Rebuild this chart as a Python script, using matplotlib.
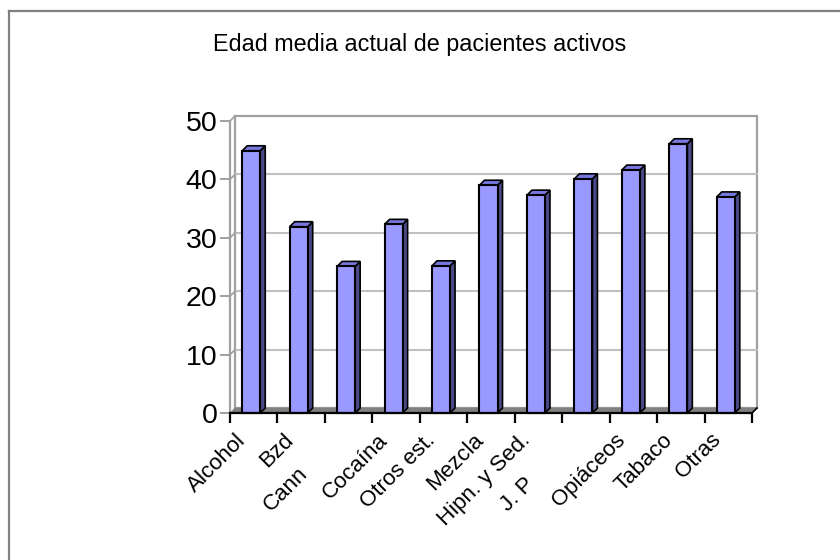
import matplotlib
matplotlib.use("Agg")
import matplotlib.pyplot as plt
from matplotlib.patches import Polygon, Rectangle
from matplotlib.lines import Line2D
import matplotlib.transforms as mtransforms

plt.rcParams['font.family'] = ['Liberation Sans', 'DejaVu Sans']

title = "Edad media actual de pacientes activos"
categories = ["Alcohol", "Bzd", "Cann", "Cocaína", "Otros est.", "Mezcla",
              "Hipn. y Sed.", "J. P", "Opiáceos", "Tabaco", "Otras"]
values = [44.9, 31.9, 25.1, 32.3, 25.2, 39.0, 37.3, 40.1, 41.6, 46.1, 37.0]
yticks = [0, 10, 20, 30, 40, 50]

W, H = 840, 560
fig = plt.figure(figsize=(W / 100, H / 100), dpi=100)

# plot area in pixels (front plane)
left, right, bottom, top = 230, 752, 413, 121
ax = fig.add_axes([left / W, 1 - bottom / H, (right - left) / W, (bottom - top) / H])
n = len(categories)
ax.set_xlim(0, n)
ax.set_ylim(0, 50)
ax.patch.set_alpha(0)

# depth offset of the 3d look (5 px right, 5 px up)
dx = 5 / ((right - left) / n)
dy = 5 / ((bottom - top) / 50)

# back wall + gridlines
ax.add_patch(Rectangle((dx, dy), n, 50, fill=False, ec='#a0a0a0', lw=1.6,
                       clip_on=False, zorder=1))
for v in yticks[1:-1]:
    ax.add_line(Line2D([dx, n + dx], [v + dy, v + dy], color='#c0c0c0', lw=1.5,
                       clip_on=False, zorder=1))
for v in yticks[1:]:
    ax.add_line(Line2D([0, dx], [v, v + dy], color='#a0a0a0', lw=1.2,
                       clip_on=False, zorder=1))
# floor
ax.add_patch(Polygon([(0, 0), (n, 0), (n + dx, dy), (dx, dy)], closed=True,
                     fc='#808080', ec='#808080', lw=0.5, clip_on=False, zorder=2))

# bars
bw = 0.38
for i, v in enumerate(values):
    c = i + 0.5
    x0 = c - (bw + dx) / 2
    x1 = x0 + bw
    ax.add_patch(Polygon([(x1, 0), (x1 + dx, dy), (x1 + dx, v + dy), (x1, v)],
                         closed=True, fc='#4a4a88', ec='black', lw=1.2,
                         clip_on=False, zorder=3))
    ax.add_patch(Polygon([(x0, v), (x0 + dx, v + dy), (x1 + dx, v + dy), (x1, v)],
                         closed=True, fc='#7777dd', ec='black', lw=1.2,
                         clip_on=False, zorder=3))
    ax.add_patch(Rectangle((x0, 0), bw, v, fc='#9999ff', ec='black', lw=1.5,
                           clip_on=False, zorder=4))

# axes lines
for s in ['top', 'right']:
    ax.spines[s].set_visible(False)
ax.spines['left'].set_color('#a0a0a0')
ax.spines['left'].set_linewidth(1.6)
ax.spines['bottom'].set_color('black')
ax.spines['bottom'].set_linewidth(1.6)
ax.spines['bottom'].set_zorder(5)
ax.add_line(Line2D([n, n + dx], [0, dy], color='black', lw=1.2, clip_on=False, zorder=5))

ax.set_yticks(yticks)
ax.set_yticklabels([str(v) for v in yticks], fontsize=20.5)
ax.tick_params(axis='y', length=7, width=1.4, color='#a0a0a0', pad=2)
ax.set_xticks(range(n + 1))
ax.set_xticklabels([])
ax.tick_params(axis='x', length=7, width=1.6, color='black', direction='out')

# rotated category labels; truncated ones sit lower along their slope
shift = {"Cann": 33, "J. P": 44}
for i, lab in enumerate(categories):
    s = shift.get(lab, 0)
    off = mtransforms.ScaledTranslation((-11 - s) / 100, (-24 - s) / 100, fig.dpi_scale_trans)
    ax.text(i + 0.5, 0, lab, transform=ax.get_xaxis_transform() + off,
            rotation=45, rotation_mode='anchor', ha='right', va='center',
            fontsize=16)

fig.text(0.5, 1 - 45 / H, title, ha='center', va='center', fontsize=16.8)

# outer frame (top and left edges)
fig.add_artist(Line2D([9 / W, 1], [1 - 11 / H, 1 - 11 / H], color='#808080', lw=1.6))
fig.add_artist(Line2D([9 / W, 9 / W], [0, 1 - 11 / H], color='#808080', lw=1.6))

fig.savefig("out.png", dpi=100)
